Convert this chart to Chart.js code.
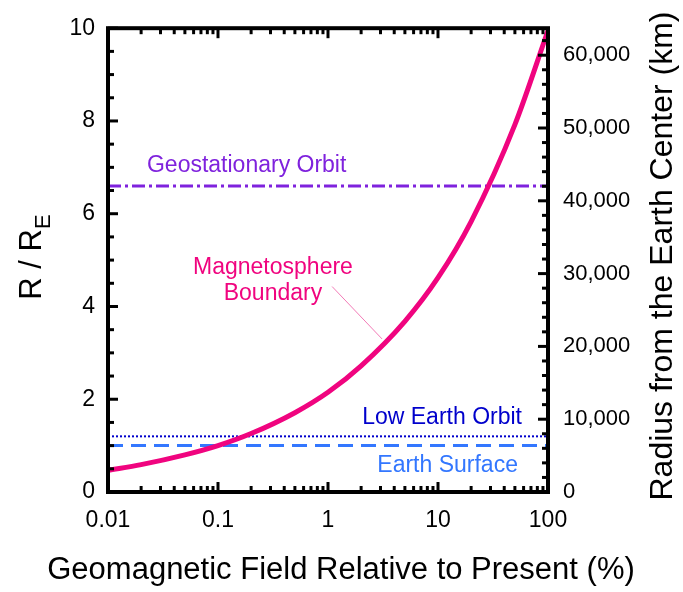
<!DOCTYPE html>
<html>
<head>
<meta charset="utf-8">
<script src="https://cdn.jsdelivr.net/npm/chart.js@4.4.0/dist/chart.umd.min.js"></script>
<style>
  body { margin: 0; background: #fff; }
  #wrap { width: 683px; height: 592px; }
</style>
</head>
<body>
<div id="wrap"><canvas id="chart"></canvas></div>
<script>
// field strength relative to present (%)
const fieldPct = [0.01, 0.02, 0.05, 0.1, 0.2, 0.5, 1, 2, 5, 10, 20, 50, 100];
// magnetosphere boundary distance (Earth radii)
const boundaryRE = [0.47, 0.59, 0.80, 1.0, 1.26, 1.71, 2.15, 2.72, 3.68, 4.62, 5.83, 7.92, 9.95];

// reference levels (Earth radii)
const geoRE = 6.6;
const leoRE = 1.2;
const surfaceRE = 1.0;
const earthRadiusKm = 6371;

// pointer from the label to the curve
const leaderX = [1.09, 3.1];
const leaderY = [4.43, 3.3];

const xTickLabels = [0.01, 0.1, 1, 10, 100];
const leftTickLabels = [0, 2, 4, 6, 8, 10];
const rightTickLabels = [0, 10000, 20000, 30000, 40000, 50000, 60000];

const FONT = '"Liberation Sans", Arial, sans-serif';
Chart.defaults.font.family = FONT;
Chart.defaults.color = '#000';

const hline = (v) => [{ x: 0.01, y: v }, { x: 100, y: v }];
const withCommas = (n) => String(n).replace(/\B(?=(\d{3})+(?!\d))/g, ',');

const frame = {
  id: 'frame',
  afterDatasetsDraw(chart) {
    const { ctx, chartArea: a, scales } = chart;
    const x = scales.x, y = scales.y, y2 = scales.y2;
    ctx.save();
    ctx.strokeStyle = '#000';
    ctx.lineWidth = 3;
    const tick = (x1, y1, x2, y2_) => {
      ctx.beginPath(); ctx.moveTo(x1, y1); ctx.lineTo(x2, y2_); ctx.stroke();
    };
    // log ticks, bottom and top
    for (let d = -2; d <= 2; d++) {
      for (let m = 1; m <= 9; m++) {
        const v = m * Math.pow(10, d);
        if (v > 100.0001) break;
        const px = x.getPixelForValue(v);
        const len = m === 1 ? 10 : 6;
        tick(px, a.bottom, px, a.bottom - len);
        tick(px, a.top, px, a.top + len);
      }
    }
    // left axis: every 0.5 R_E
    for (let i = 0; i <= 20; i++) {
      const v = i * 0.5;
      const py = y.getPixelForValue(v);
      tick(a.left, py, a.left + (i % 4 === 0 ? 10 : 6), py);
    }
    // right axis: every 2,000 km
    for (let km = 0; km <= 62000; km += 2000) {
      const py = y2.getPixelForValue(km);
      tick(a.right, py, a.right - (km % 10000 === 0 ? 10 : 6), py);
    }
    ctx.lineWidth = 4;
    ctx.strokeRect(a.left, a.top, a.right - a.left, a.bottom - a.top);
    ctx.restore();
  },
  afterDraw(chart) {
    const { ctx, scales } = chart;
    const x = scales.x, y = scales.y;
    ctx.save();
    ctx.textBaseline = 'alphabetic';

    const label = (txt, xv, yv, align, color) => {
      ctx.fillStyle = color;
      ctx.textAlign = align;
      ctx.fillText(txt, x.getPixelForValue(xv), y.getPixelForValue(yv));
    };
    ctx.font = '23px ' + FONT;
    label('Geostationary Orbit', 0.0226, 6.9, 'left', '#7F22DD');
    label('Magnetosphere', 0.316, 4.71, 'center', '#F0047F');
    label('Boundary', 0.316, 4.15, 'center', '#F0047F');
    label('Low Earth Orbit', 58, 1.456, 'right', '#0000CC');
    label('Earth Surface', 53.3, 0.43, 'right', '#3377FF');

    // axis titles
    ctx.fillStyle = '#000';
    ctx.font = '31px ' + FONT;
    ctx.textAlign = 'center';
    ctx.fillText('Geomagnetic Field Relative to Present (%)', 341, 579);

    ctx.save();
    ctx.translate(672, 256);
    ctx.rotate(-Math.PI / 2);
    ctx.font = '32px ' + FONT;
    ctx.fillText('Radius from the Earth Center (km)', 0, 0);
    ctx.restore();

    ctx.save();
    ctx.translate(41, 257);
    ctx.rotate(-Math.PI / 2);
    ctx.font = '31px ' + FONT;
    const main = 'R / R';
    const w1 = ctx.measureText(main).width;
    ctx.font = '22px ' + FONT;
    const w2 = ctx.measureText('E').width;
    const start = -(w1 + w2) / 2;
    ctx.textAlign = 'left';
    ctx.font = '31px ' + FONT;
    ctx.fillText(main, start, 0);
    ctx.font = '22px ' + FONT;
    ctx.fillText('E', start + w1, 9);
    ctx.restore();

    ctx.restore();
  }
};

new Chart(document.getElementById('chart'), {
  type: 'scatter',
  data: {
    datasets: [
      {
        label: 'Magnetosphere Boundary',
        data: fieldPct.map((v, i) => ({ x: v, y: boundaryRE[i] })),
        showLine: true,
        borderColor: '#F0047F',
        borderWidth: 5,
        cubicInterpolationMode: 'monotone',
        pointRadius: 0
      },
      {
        label: 'pointer',
        data: leaderX.map((v, i) => ({ x: v, y: leaderY[i] })),
        showLine: true,
        borderColor: '#F27AB6',
        borderWidth: 1,
        pointRadius: 0
      },
      {
        label: 'Geostationary Orbit',
        data: hline(geoRE),
        showLine: true,
        borderColor: '#7F22DD',
        borderWidth: 3,
        borderDash: [13, 4, 3, 4],
        pointRadius: 0
      },
      {
        label: 'Low Earth Orbit',
        data: hline(leoRE),
        showLine: true,
        borderColor: '#0000CC',
        borderWidth: 2,
        borderDash: [2, 2],
        pointRadius: 0
      },
      {
        label: 'Earth Surface',
        data: hline(surfaceRE),
        showLine: true,
        borderColor: '#3377FF',
        borderWidth: 3,
        borderDash: [15, 8],
        pointRadius: 0
      }
    ]
  },
  options: {
    responsive: true,
    maintainAspectRatio: false,
    animation: false,
    layout: { padding: { top: 25, left: 0, right: 0, bottom: 0 } },
    plugins: { legend: { display: false }, tooltip: { enabled: false } },
    scales: {
      x: {
        type: 'logarithmic',
        position: 'bottom',
        min: 0.01,
        max: 100,
        grid: { display: false, drawTicks: false },
        border: { display: false },
        afterBuildTicks: (s) => { s.ticks = xTickLabels.map(v => ({ value: v })); },
        afterFit: (s) => { s.height = 100; },
        ticks: {
          autoSkip: false,
          maxRotation: 0,
          padding: 15,
          font: { size: 23 },
          callback: (v) => String(v)
        }
      },
      y: {
        position: 'left',
        min: 0,
        max: 10,
        grid: { display: false, drawTicks: false },
        border: { display: false },
        afterBuildTicks: (s) => { s.ticks = leftTickLabels.map(v => ({ value: v })); },
        afterFit: (s) => { s.width = 108; },
        ticks: { autoSkip: false, padding: 13, font: { size: 23 } }
      },
      y2: {
        position: 'right',
        min: 0,
        max: 10 * earthRadiusKm,
        grid: { display: false, drawTicks: false },
        border: { display: false },
        afterBuildTicks: (s) => { s.ticks = rightTickLabels.map(v => ({ value: v })); },
        afterFit: (s) => { s.width = 135; },
        ticks: {
          autoSkip: false,
          padding: 15,
          font: { size: 22 },
          callback: (v) => withCommas(v)
        }
      }
    }
  },
  plugins: [frame]
});
</script>
</body>
</html>
